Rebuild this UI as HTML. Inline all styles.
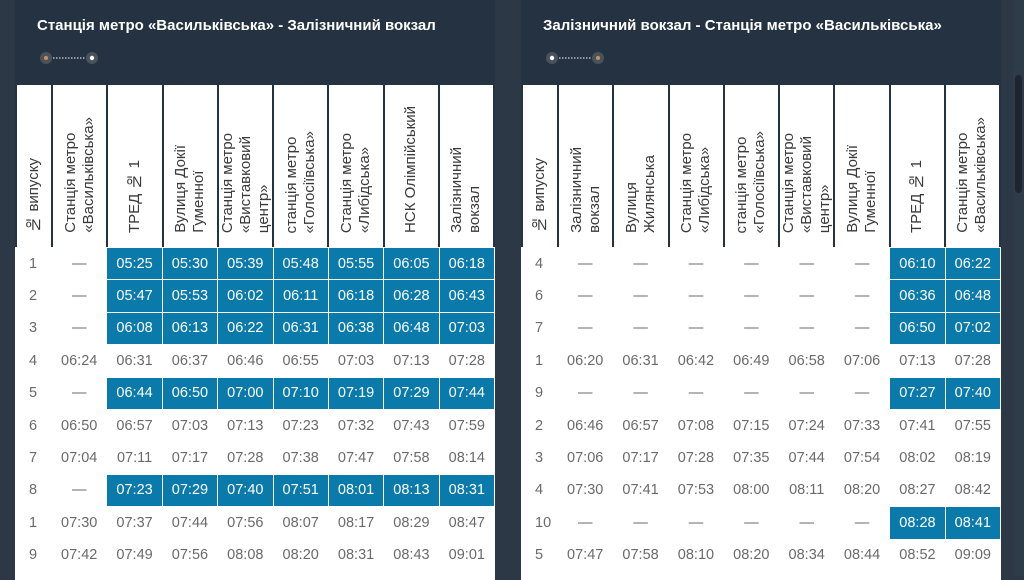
<!DOCTYPE html>
<html><head><meta charset="utf-8"><style>
*{margin:0;padding:0;box-sizing:border-box}
body{width:1024px;height:576px;overflow:hidden;background:#2c3845;font-family:"Liberation Sans","DejaVu Sans",sans-serif;position:relative}
.panel{position:absolute;top:0;width:480px;height:576px;background:#253241}
.title{position:absolute;left:22px;top:17px;color:#fff;font-size:15px;font-weight:bold;white-space:nowrap}
.ic{position:absolute;left:24px;top:51px;width:60px;height:14px}
table{position:absolute;left:0;border-collapse:collapse;table-layout:fixed;width:480px}
.hd{top:83px}
.hd td{height:164px;background:#fff;border:2px solid #253241;vertical-align:bottom;padding:0 0 9px 0;text-align:center}
.v{writing-mode:vertical-rl;transform:rotate(180deg);display:inline-block;font-size:15px;color:#3a3a3a;text-align:left;line-height:18px;white-space:nowrap}
.bd{top:247px;background:#fff}
.bd td{height:32.4px;border:1px solid #fff;text-align:center;font-size:14.5px;color:#6a6a6a;padding:0}
.bd td.b{background:#0a7aab;color:#fff}
.bd td:first-child{text-align:left;padding-left:13px}
.fill{position:absolute;left:0;top:560px;width:480px;height:20px;background:#fff}
</style></head><body>
<div style="position:absolute;left:1013px;top:0;width:11px;height:576px;background:#2e3b48"></div>
<div style="position:absolute;left:1015px;top:75px;width:7px;height:118px;background:#1d2630;border-radius:4px"></div>

<div class="panel" style="left:15px">
<div class="title">Станція метро «Васильківська» - Залізничний вокзал</div>
<svg class="ic" viewBox="0 0 60 14"><circle cx="7" cy="7" r="6" fill="#4a525c"/><circle cx="7" cy="7" r="2" fill="#c8915a"/><line x1="14" y1="7" x2="47" y2="7" stroke="#fff" stroke-dasharray="1.5 1.5"/><circle cx="53" cy="7" r="6" fill="#4a525c"/><circle cx="53" cy="7" r="2.2" fill="#fff"/></svg>
<div class="fill"></div>
<table class="hd"><colgroup><col style="width:36px"><col span="8"></colgroup><tr>
<td><span class="v">№ випуску</span></td>
<td><span class="v">Станція метро<br>«Васильківська»</span></td>
<td><span class="v">ТРЕД № 1</span></td>
<td><span class="v">Вулиця Докії<br>Гуменної</span></td>
<td><span class="v">Станція метро<br>«Виставковий<br>центр»</span></td>
<td><span class="v">станція метро<br>«Голосіївська»</span></td>
<td><span class="v">Станція метро<br>«Либідська»</span></td>
<td><span class="v">НСК Олімпійський</span></td>
<td><span class="v">Залізничний<br>вокзал</span></td>
</tr></table>
<table class="bd"><colgroup><col style="width:36px"><col span="8"></colgroup>
<tr><td>1</td><td>—</td><td class="b">05:25</td><td class="b">05:30</td><td class="b">05:39</td><td class="b">05:48</td><td class="b">05:55</td><td class="b">06:05</td><td class="b">06:18</td></tr>
<tr><td>2</td><td>—</td><td class="b">05:47</td><td class="b">05:53</td><td class="b">06:02</td><td class="b">06:11</td><td class="b">06:18</td><td class="b">06:28</td><td class="b">06:43</td></tr>
<tr><td>3</td><td>—</td><td class="b">06:08</td><td class="b">06:13</td><td class="b">06:22</td><td class="b">06:31</td><td class="b">06:38</td><td class="b">06:48</td><td class="b">07:03</td></tr>
<tr><td>4</td><td>06:24</td><td>06:31</td><td>06:37</td><td>06:46</td><td>06:55</td><td>07:03</td><td>07:13</td><td>07:28</td></tr>
<tr><td>5</td><td>—</td><td class="b">06:44</td><td class="b">06:50</td><td class="b">07:00</td><td class="b">07:10</td><td class="b">07:19</td><td class="b">07:29</td><td class="b">07:44</td></tr>
<tr><td>6</td><td>06:50</td><td>06:57</td><td>07:03</td><td>07:13</td><td>07:23</td><td>07:32</td><td>07:43</td><td>07:59</td></tr>
<tr><td>7</td><td>07:04</td><td>07:11</td><td>07:17</td><td>07:28</td><td>07:38</td><td>07:47</td><td>07:58</td><td>08:14</td></tr>
<tr><td>8</td><td>—</td><td class="b">07:23</td><td class="b">07:29</td><td class="b">07:40</td><td class="b">07:51</td><td class="b">08:01</td><td class="b">08:13</td><td class="b">08:31</td></tr>
<tr><td>1</td><td>07:30</td><td>07:37</td><td>07:44</td><td>07:56</td><td>08:07</td><td>08:17</td><td>08:29</td><td>08:47</td></tr>
<tr><td>9</td><td>07:42</td><td>07:49</td><td>07:56</td><td>08:08</td><td>08:20</td><td>08:31</td><td>08:43</td><td>09:01</td></tr>
</table>
</div>

<div class="panel" style="left:521px">
<div class="title">Залізничний вокзал - Станція метро «Васильківська»</div>
<svg class="ic" viewBox="0 0 60 14"><circle cx="7" cy="7" r="6" fill="#4a525c"/><circle cx="7" cy="7" r="2.2" fill="#fff"/><line x1="14" y1="7" x2="47" y2="7" stroke="#fff" stroke-dasharray="1.5 1.5"/><circle cx="53" cy="7" r="6" fill="#4a525c"/><circle cx="53" cy="7" r="2" fill="#c8915a"/></svg>
<div class="fill"></div>
<table class="hd"><colgroup><col style="width:36px"><col span="8"></colgroup><tr>
<td><span class="v">№ випуску</span></td>
<td><span class="v">Залізничний<br>вокзал</span></td>
<td><span class="v">Вулиця<br>Жилянська</span></td>
<td><span class="v">Станція метро<br>«Либідська»</span></td>
<td><span class="v">станція метро<br>«Голосіївська»</span></td>
<td><span class="v">Станція метро<br>«Виставковий<br>центр»</span></td>
<td><span class="v">Вулиця Докії<br>Гуменної</span></td>
<td><span class="v">ТРЕД № 1</span></td>
<td><span class="v">Станція метро<br>«Васильківська»</span></td>
</tr></table>
<table class="bd"><colgroup><col style="width:36px"><col span="8"></colgroup>
<tr><td>4</td><td>—</td><td>—</td><td>—</td><td>—</td><td>—</td><td>—</td><td class="b">06:10</td><td class="b">06:22</td></tr>
<tr><td>6</td><td>—</td><td>—</td><td>—</td><td>—</td><td>—</td><td>—</td><td class="b">06:36</td><td class="b">06:48</td></tr>
<tr><td>7</td><td>—</td><td>—</td><td>—</td><td>—</td><td>—</td><td>—</td><td class="b">06:50</td><td class="b">07:02</td></tr>
<tr><td>1</td><td>06:20</td><td>06:31</td><td>06:42</td><td>06:49</td><td>06:58</td><td>07:06</td><td>07:13</td><td>07:28</td></tr>
<tr><td>9</td><td>—</td><td>—</td><td>—</td><td>—</td><td>—</td><td>—</td><td class="b">07:27</td><td class="b">07:40</td></tr>
<tr><td>2</td><td>06:46</td><td>06:57</td><td>07:08</td><td>07:15</td><td>07:24</td><td>07:33</td><td>07:41</td><td>07:55</td></tr>
<tr><td>3</td><td>07:06</td><td>07:17</td><td>07:28</td><td>07:35</td><td>07:44</td><td>07:54</td><td>08:02</td><td>08:19</td></tr>
<tr><td>4</td><td>07:30</td><td>07:41</td><td>07:53</td><td>08:00</td><td>08:11</td><td>08:20</td><td>08:27</td><td>08:42</td></tr>
<tr><td>10</td><td>—</td><td>—</td><td>—</td><td>—</td><td>—</td><td>—</td><td class="b">08:28</td><td class="b">08:41</td></tr>
<tr><td>5</td><td>07:47</td><td>07:58</td><td>08:10</td><td>08:20</td><td>08:34</td><td>08:44</td><td>08:52</td><td>09:09</td></tr>
</table>
</div>
</body></html>
